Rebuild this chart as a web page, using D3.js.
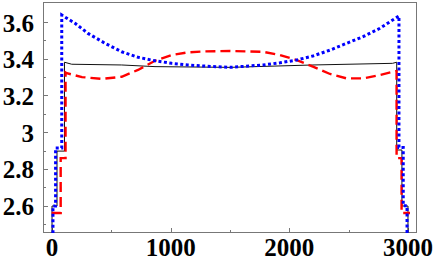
<!DOCTYPE html>
<html>
<head>
<meta charset="utf-8">
<script src="https://cdn.jsdelivr.net/npm/d3@7"></script>
<style>
  body { margin: 0; background: #fff; }
  .lbl { font-family: "Liberation Serif", "Times New Roman", serif; font-weight: bold; font-size: 25px; fill: #000; }
</style>
</head>
<body>
<svg id="svg"></svg>
<script>
// values
const blackX = [0, 0, 42, 42, 105, 105, 166, 587, 868, 1500, 2199, 2870, 2905, 2905, 2949, 2949, 3000, 3000];
const blackY = [2.30, 2.598, 2.598, 2.897, 2.897, 3.381, 3.370, 3.366, 3.357, 3.353, 3.366, 3.375, 3.381, 2.903, 2.903, 2.598, 2.598, 2.30];

const redX = [-3, 73, 73, 114, 114, 124, 253, 419, 587, 725, 868, 1008, 1146, 1289, 1500, 1778, 1921, 2062, 2199, 2343, 2483, 2623, 2763, 2873, 2904, 2904, 2946, 2946, 3017];
const redY = [2.560, 2.560, 2.859, 2.859, 3.325, 3.321, 3.300, 3.290, 3.302, 3.339, 3.389, 3.420, 3.435, 3.440, 3.442, 3.438, 3.420, 3.393, 3.357, 3.317, 3.293, 3.293, 3.311, 3.329, 3.333, 2.859, 2.859, 2.560, 2.560];

const blueX = [8, 8, 30, 30, 82, 82, 194, 303, 447, 587, 725, 868, 1009, 1146, 1289, 1500, 1778, 1921, 2062, 2199, 2343, 2483, 2621, 2764, 2924, 2924, 2960, 2960, 2992, 2992];
const blueY = [2.30, 2.598, 2.598, 2.914, 2.914, 3.638, 3.593, 3.538, 3.484, 3.438, 3.408, 3.389, 3.375, 3.366, 3.360, 3.353, 3.366, 3.378, 3.393, 3.415, 3.447, 3.484, 3.520, 3.566, 3.633, 2.917, 2.917, 2.600, 2.600, 2.30];

const xTicks = [0, 1000, 2000, 3000];
const xMinor = [500, 1500, 2500];
const yTicks = [2.6, 2.8, 3, 3.2, 3.4, 3.6];
const yMinor = [2.5, 2.7, 2.9, 3.1, 3.3, 3.5];

const W = 436, H = 259;
const padL = 43, padR = 417, padT = 2, padB = 233;

const svg = d3.select("svg").attr("width", W).attr("height", H);

const x = d3.scaleLinear().domain([-76, 3076]).range([padL, padR]);
const y = d3.scaleLinear().domain([2.451, 3.709]).range([padB, padT]);

svg.append("clipPath").attr("id", "clip")
  .append("rect").attr("x", padL).attr("y", padT).attr("width", padR - padL).attr("height", padB - padT);

// frame
svg.append("rect")
  .attr("x", padL + 0.5).attr("y", padT + 0.5)
  .attr("width", padR - padL - 1).attr("height", padB - padT - 1)
  .attr("fill", "none").attr("stroke", "#777").attr("stroke-width", 1);

// ticks (inward)
const tk = svg.append("g").attr("stroke", "#777").attr("stroke-width", 1);
yTicks.forEach(v => tk.append("line").attr("x1", padL).attr("x2", padL + 5).attr("y1", Math.round(y(v)) + 0.5).attr("y2", Math.round(y(v)) + 0.5));
yMinor.forEach(v => tk.append("line").attr("x1", padL).attr("x2", padL + 3).attr("y1", Math.round(y(v)) + 0.5).attr("y2", Math.round(y(v)) + 0.5));
xTicks.forEach(v => tk.append("line").attr("y1", padB).attr("y2", padB - 5).attr("x1", Math.round(x(v)) + 0.5).attr("x2", Math.round(x(v)) + 0.5));
xMinor.forEach(v => tk.append("line").attr("y1", padB).attr("y2", padB - 3).attr("x1", Math.round(x(v)) + 0.5).attr("x2", Math.round(x(v)) + 0.5));

// labels
svg.selectAll(".ylbl").data(yTicks).enter().append("text")
  .attr("class", "lbl").attr("text-anchor", "end")
  .attr("x", 34).attr("y", d => y(d) + 9.5)
  .text(d => d3.format("")(d));
svg.selectAll(".xlbl").data(xTicks).enter().append("text")
  .attr("class", "lbl").attr("text-anchor", "middle")
  .attr("x", d => x(d)).attr("y", 256)
  .text(d => d);

const line = d3.line().x(d => x(d[0])).y(d => y(d[1]));
const plot = svg.append("g").attr("clip-path", "url(#clip)");

plot.append("path").datum(d3.zip(blackX, blackY))
  .attr("d", line).attr("fill", "none").attr("stroke", "#111").attr("stroke-width", 1);

plot.append("path").datum(d3.zip(redX, redY))
  .attr("d", line).attr("fill", "none").attr("stroke", "#ff0000").attr("stroke-width", 2.4)
  .attr("stroke-dasharray", "10,5");

plot.append("path").datum(d3.zip(blueX, blueY))
  .attr("d", line).attr("fill", "none").attr("stroke", "#0000ff").attr("stroke-width", 3)
  .attr("stroke-dasharray", "3,2.5");
</script>
</body>
</html>
